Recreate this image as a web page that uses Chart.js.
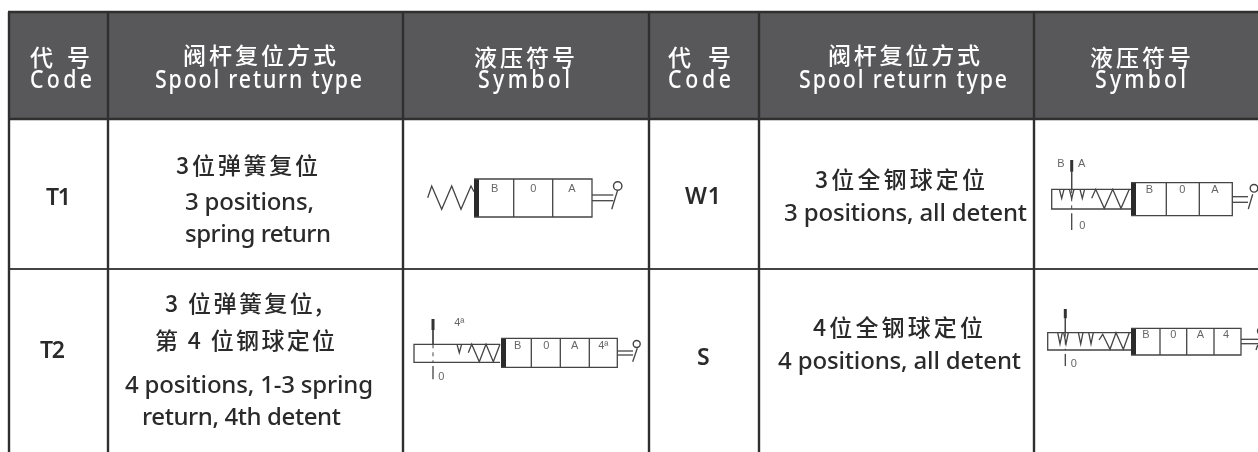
<!DOCTYPE html>
<html>
<head>
<meta charset="utf-8">
<style>html,body{margin:0;padding:0;background:#fff}canvas{display:block}</style>
<script src="https://cdn.jsdelivr.net/npm/chart.js@4/dist/chart.umd.min.js"></script>
</head>
<body>
<canvas id="c" width="1258" height="452"></canvas>
<script>
// ---- table content ----
const headerCode = ['代 号', 'Code'];
const headerType = ['阀杆复位方式', 'Spool return type'];
const headerSymbol = ['液压符号', 'Symbol'];
const codes = ['T1', 'T2', 'W1', 'S'];
const typeT1 = ['3位弹簧复位', '3 positions,', 'spring return'];
const typeT2 = ['3 位弹簧复位,', '第 4 位钢球定位', '4 positions, 1-3 spring', 'return, 4th detent'];
const typeW1 = ['3位全钢球定位', '3 positions, all detent'];
const typeS = ['4位全钢球定位', '4 positions, all detent'];

// ---- layout (separate from the content) ----
const colX = [9, 108, 403, 649, 759, 1034];
const rowY = [12, 119, 269];
const W = 1258, H = 452;

const P = (x, y) => ({x, y});
const path = (...a) => { const r = []; for (let i = 0; i < a.length; i += 2) r.push(P(a[i], a[i + 1])); return r; };

const datasets = [];
function line(pts, w, color, dash) {
  datasets.push({type: 'scatter', data: pts, showLine: true, borderColor: color, borderWidth: w,
    borderDash: dash || [], pointRadius: 0, fill: false, order: 1, tension: 0, borderCapStyle: 'butt', borderJoinStyle: 'miter'});
}
function dot(x, y, r) {
  datasets.push({type: 'scatter', data: [P(x, y)], showLine: false, pointRadius: r, pointBorderWidth: 1.4,
    pointBackgroundColor: '#fff', pointBorderColor: '#444', order: 0});
}
// header band
datasets.push({type: 'scatter', data: [P(colX[0], rowY[0]), P(W, rowY[0])], showLine: true, borderWidth: 0,
  pointRadius: 0, fill: {value: rowY[1]}, backgroundColor: '#58585a', order: 5});
// grid
const GRID = '#2f2f2f';
colX.forEach(x => line([P(x, rowY[0]), P(x, H)], 2.4, GRID));
line([P(colX[0] - 1, rowY[0]), P(W, rowY[0])], 2.4, GRID);
line([P(colX[0] - 1, rowY[1]), P(W, rowY[1])], 2.6, GRID);
line([P(colX[0] - 1, rowY[2]), P(W, rowY[2])], 2, '#444');

const SYM = '#444', LW = 1.3;
function valve(x0, x1, y0, y1, dividers) {
  line(path(x0, y0, x1, y0, x1, y1, x0, y1), LW, SYM);
  dividers.forEach(d => line(path(d, y0, d, y1), LW, SYM));
  line(path(x0 + 2.5, y0, x0 + 2.5, y1), 5, '#2b2b2b');
}
function lever(x0, x1, ya, yb, sx0, sy0, sx1, sy1, cx, cy, r) {
  line(path(x0, ya, x1, ya), LW, SYM);
  line(path(x0, yb, x1, yb), LW, SYM);
  line(path(sx0, sy0, sx1, sy1), LW, SYM);
  dot(cx, cy, r);
}
function handle(x, t0, t1, top, bot, b0, b1) {
  line(path(x, t0, x, t1), 3, '#333');
  line(path(x, t1, x, top), 1, SYM);
  line(path(x, top, x, bot), 1, SYM, [4, 4]);
  line(path(x, b0, x, b1), LW, SYM);
}
function rail(x0, x1, y0, y1) { line(path(x1, y0, x0, y0, x0, y1, x1, y1), LW, SYM); }
const vee = (c, y0, y1) => line(path(c - 2.3, y0, c, y1, c + 2.3, y0), LW, SYM);

// T1 symbol
line(path(427.7,197.7, 431.7,186, 441.7,209.3, 451.7,186, 461,209.3, 471,186, 474,191.7), LW, SYM);
valve(474, 592, 179, 217, [513.7, 552.7]);
lever(592, 613.3, 195, 200.7, 617.7,190, 611.7,209.3, 617.7,186, 4.2);

// T2 symbol
rail(414, 500, 344.3, 362.3);
handle(433, 319, 330, 344.3, 362.3, 366, 379.3);
vee(459.3, 344.3, 352.7);
line(path(468.3,352.7, 471.7,344.3, 479.3,361.7, 486,344.3, 493.3,361.7, 500,344.3), LW, SYM);
valve(501, 617.3, 338.3, 367.3, [531.3, 560.3, 589.3]);
lever(617.3, 633, 351, 355, 637.3,348.3, 632.7,361.7, 636.7,344, 3.5);

// W1 symbol
rail(1051.7, 1131, 189.3, 209);
handle(1071.7, 160, 171.7, 189.3, 209, 213.3, 230);
[1061.7, 1071.7, 1082.3].forEach(c => vee(c, 189.3, 198.3));
line(path(1091.7,198.3, 1095.7,189.3, 1104.3,208.3, 1112.7,189.3, 1121,208.3, 1129.3,189.3), LW, SYM);
valve(1131, 1232.3, 182.7, 215.7, [1166.3, 1199.3]);
lever(1232.3, 1248, 196.7, 202.3, 1252.7,194.3, 1248.3,209, 1254,188.3, 3.8);

// S symbol
rail(1047.7, 1131, 332.7, 350);
handle(1065.3, 309, 318.3, 332.7, 350, 354, 366);
[1060, 1066, 1080.7, 1091].forEach(c => vee(c, 332.7, 344));
line(path(1099,340, 1102.7,334.3, 1110,349.3, 1116,332.7, 1123.3,349.3, 1129.3,332.7), LW, SYM);
valve(1131, 1241, 328.3, 355, [1160, 1186.7, 1214]);
lever(1241, 1258, 339.3, 343.7, 1257.7,345, 1256,350, 1261,331, 3.5);

// ---- text placement: [text, left, right, y, font, colour, horizontal squeeze] ----
const HEAD_CN = '500 23px "Noto Sans CJK SC"', HEAD_LAT = '500 26px "Noto Sans"';
const BODY_CN = '500 23px "Noto Sans CJK SC"', BODY_LAT = '500 24px "Noto Sans"', CODE = '600 23px "Noto Sans"';
const NARROW = 0.82;
const texts = [
  [headerCode[0], 30, 90, 57, HEAD_CN, '#fff'], [headerCode[1], 30, 92, 81, HEAD_LAT, '#fff', NARROW],
  [headerType[0], 183, 336, 55, HEAD_CN, '#fff'], [headerType[1], 155, 362, 81, HEAD_LAT, '#fff', NARROW],
  [headerSymbol[0], 474, 575, 57, HEAD_CN, '#fff'], [headerSymbol[1], 478, 570, 81, HEAD_LAT, '#fff', NARROW],
  [headerCode[0], 668, 731, 57, HEAD_CN, '#fff'], [headerCode[1], 668, 731, 81, HEAD_LAT, '#fff', NARROW],
  [headerType[0], 828, 980, 55, HEAD_CN, '#fff'], [headerType[1], 799, 1007, 81, HEAD_LAT, '#fff', NARROW],
  [headerSymbol[0], 1090, 1191, 57, HEAD_CN, '#fff'], [headerSymbol[1], 1095, 1186, 81, HEAD_LAT, '#fff', NARROW],
  [codes[0], 46, 71, 198, CODE, '#2a2a2a'], [codes[1], 40, 65, 351, CODE, '#2a2a2a'],
  [codes[2], 685, 721, 197, CODE, '#2a2a2a'], [codes[3], 697, 709, 358, CODE, '#2a2a2a'],
  [typeT1[0], 176, 318, 165, BODY_CN, '#2a2a2a'], [typeT1[1], 185, 314, 203, BODY_LAT, '#2a2a2a'], [typeT1[2], 185, 331, 235, BODY_LAT, '#2a2a2a'],
  [typeT2[0], 165, 322, 303, BODY_CN, '#2a2a2a'], [typeT2[1], 155, 335, 340, BODY_CN, '#2a2a2a'],
  [typeT2[2], 125, 373, 386, BODY_LAT, '#2a2a2a'], [typeT2[3], 142, 341, 418, BODY_LAT, '#2a2a2a'],
  [typeW1[0], 815, 985, 179, BODY_CN, '#2a2a2a'], [typeW1[1], 784, 1027, 214, BODY_LAT, '#2a2a2a'],
  [typeS[0], 813, 983, 327, BODY_CN, '#2a2a2a'], [typeS[1], 778, 1021, 362, BODY_LAT, '#2a2a2a'],
];
const SMALL = '11px "Liberation Sans"', SMALLC = '#666';
const marks = [
  ['B',494.7,189],['0',533.3,189],['A',572,189],
  ['B',517.7,346],['0',546.3,346],['A',574.7,346],['4ª',603.3,346],['4ª',459.3,323],['0',441.3,376.5],
  ['B',1149.3,190],['0',1182.3,190],['A',1215,190],['B',1061,164],['A',1081.7,164],['0',1082.3,225.5],
  ['B',1146,335],['0',1173.3,335],['A',1200.3,335],['4',1226,335],['0',1073.7,364],
];

const textPlugin = {
  id: 'tableText',
  afterDatasetsDraw(chart) {
    const {ctx, scales: {x, y}} = chart;
    ctx.save();
    ctx.textBaseline = 'middle';
    for (const [s, l, r, yy, font, col, sx = 1] of texts) {
      ctx.font = font; ctx.fillStyle = col; ctx.textAlign = 'left';
      ctx.letterSpacing = '0px';
      const px0 = x.getPixelForValue(l), px1 = x.getPixelForValue(r);
      const w = ctx.measureText(s).width;
      ctx.letterSpacing = (((px1 - px0) / sx - w) / Math.max(1, s.length - 1)).toFixed(2) + 'px';
      ctx.save();
      ctx.translate(px0, y.getPixelForValue(yy));
      ctx.scale(sx, 1);
      ctx.fillText(s, 0, 0);
      ctx.restore();
    }
    ctx.letterSpacing = '0px';
    ctx.font = SMALL; ctx.fillStyle = SMALLC; ctx.textAlign = 'center';
    for (const [s, xx, yy] of marks) ctx.fillText(s, x.getPixelForValue(xx), y.getPixelForValue(yy));
    ctx.restore();
  }
};

new Chart(document.getElementById('c'), {
  type: 'scatter',
  data: {datasets},
  options: {
    responsive: false, animation: false, events: [],
    layout: {padding: 0, autoPadding: false},
    plugins: {legend: {display: false}, tooltip: {enabled: false}, title: {display: false}},
    scales: {
      x: {type: 'linear', min: 0, max: W, display: false},
      y: {type: 'linear', min: 0, max: H, reverse: true, display: false}
    }
  },
  plugins: [textPlugin]
});
</script>
</body>
</html>
